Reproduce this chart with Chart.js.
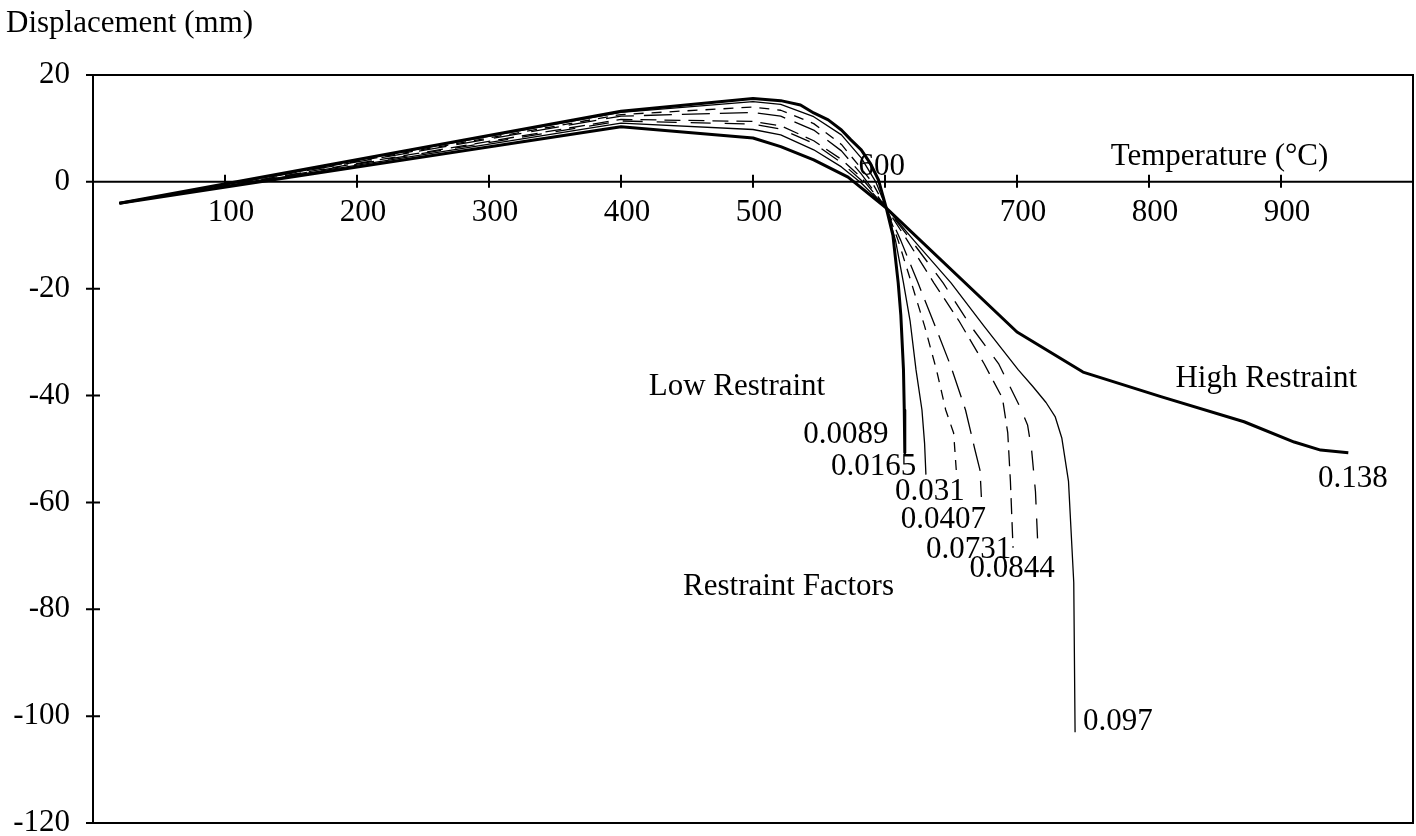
<!DOCTYPE html>
<html>
<head>
<meta charset="utf-8">
<script src="https://cdn.jsdelivr.net/npm/chart.js@4.4.0/dist/chart.umd.min.js"></script>
<style>
  html, body { margin: 0; padding: 0; background: #fff; }
</style>
</head>
<body>
<canvas id="chart" width="1416" height="836"></canvas>
<script>
// temperature (°C), displacement (mm), one array per restraint factor
const rf0089 = [[20,-4],[400,13.2],[500,15.6],[521,15.2],[536,14.4],[546,12.9],[557,11.6],[567,9.7],[574,7.9],[582,6.0],[589,3.4],[595,0.4],[601,-4.9],[606,-10],[610,-18.9],[612,-25],[614,-35.2],[614.6,-42.7],[615,-50.7]];
const rf0165 = [[20,-4],[400,13.0],[500,15.0],[521,14.5],[546,12.2],[567,8.8],[582,4.5],[593,0],[601,-4.9],[608,-11],[614,-18.9],[619,-26],[623.5,-35.2],[628,-42.7],[630,-49],[631,-54.8]];
const rf031 = [[20,-4],[400,12.6],[500,14.0],[521,13.4],[546,10.9],[567,7.0],[582,2.5],[590,0],[601,-4.9],[610,-11],[620,-18.9],[630,-27],[639,-35.2],[646,-42.7],[652,-47],[654,-54]];
const rf0407 = [[20,-4],[400,12.3],[500,13.0],[521,12.3],[546,9.7],[567,5.8],[582,1.5],[601,-4.9],[612,-11],[625,-18.9],[638,-27],[650,-34.6],[661,-42.7],[668,-50],[672,-54],[673,-59]];
const rf0731 = [[20,-4],[400,11.7],[500,11.3],[521,10.5],[546,7.7],[567,4.2],[582,0.8],[601,-4.9],[617,-11],[637,-18.9],[656,-26],[675,-34],[689,-40.5],[693,-47],[695,-56],[697,-68.5]];
const rf0844 = [[20,-4],[400,11.4],[500,10.8],[521,9.9],[546,7.2],[567,3.6],[582,0.3],[601,-4.9],[620,-11],[644,-18.9],[665,-27],[686,-34],[702,-42],[708,-45.5],[711,-50],[714,-58],[716,-69.2]];
const rf097 = [[20,-4],[400,11.0],[500,9.8],[521,8.8],[546,6.0],[567,2.8],[582,-0.2],[601,-4.9],[622,-11],[650,-18.9],[675,-27],[701,-35.2],[712,-38.3],[722,-41.3],[729,-44],[734,-48],[739,-56],[743,-75],[744,-103]];
const rf138 = [[20,-4],[400,10.3],[500,8.2],[521,6.6],[546,4.1],[572,0.9],[601,-4.9],[700,-28.1],[750,-35.6],[809,-40.2],[872,-44.9],[910,-48.7],[930,-50.2],[951,-50.7]];

const xTicks = [100, 200, 300, 400, 500, 700, 800, 900];   // 600 is written above the axis
const yTicks = [20, 0, -20, -40, -60, -80, -100, -120];

// text written inside the plot, anchored in data units (left edge, baseline)
const notes = [
  ['600', 580, 1.3],
  ['Temperature (°C)', 771, 3.2],
  ['Low Restraint', 421, -39.9],
  ['High Restraint', 820, -38.4],
  ['0.0089', 538, -48.8],
  ['0.0165', 559, -54.8],
  ['0.031', 607.6, -59.5],
  ['0.0407', 612, -64.8],
  ['0.0731', 631, -70.4],
  ['0.0844', 664, -73.9],
  ['Restraint Factors', 447, -77.3],
  ['0.097', 750, -102.6],
  ['0.138', 928, -57.1]
];

const serif = '"Liberation Serif", "Times New Roman", serif';
const pts = arr => arr.map(p => ({x: p[0], y: p[1]}));

function line(label, arr, width, dash) {
  return {
    label: label,
    data: pts(arr),
    borderColor: '#000',
    borderWidth: width,
    borderDash: dash || [],
    borderJoinStyle: 'round',
    pointRadius: 0,
    tension: 0,
    fill: false
  };
}

const framePlugin = {
  id: 'frame',
  beforeDatasetsDraw(chart) {
    const {ctx, chartArea: a, scales: {x, y}} = chart;
    ctx.save();
    ctx.strokeStyle = '#000';
    ctx.lineWidth = 2;
    ctx.strokeRect(a.left, a.top, a.right - a.left, a.bottom - a.top);
    const y0 = y.getPixelForValue(0);
    ctx.beginPath();
    ctx.moveTo(a.left, y0);
    ctx.lineTo(a.right, y0);
    x.ticks.forEach(t => {
      if (t.value <= 0) return;
      const px = x.getPixelForValue(t.value);
      ctx.moveTo(px, y0 - 7);
      ctx.lineTo(px, y0 + 6);
    });
    y.ticks.forEach(t => {
      const py = y.getPixelForValue(t.value);
      ctx.moveTo(a.left - 7, py);
      ctx.lineTo(a.left + 7, py);
    });
    ctx.stroke();
    ctx.restore();
  },
  afterDraw(chart) {
    const {ctx, scales: {x, y}} = chart;
    ctx.save();
    ctx.fillStyle = '#000';
    ctx.font = '31px ' + serif;
    ctx.textAlign = 'left';
    ctx.textBaseline = 'alphabetic';
    ctx.fillText('Displacement (mm)', 6, 32);
    notes.forEach(n => {
      ctx.fillText(n[0], x.getPixelForValue(n[1]), y.getPixelForValue(n[2]));
    });
    ctx.restore();
  }
};

new Chart(document.getElementById('chart'), {
  type: 'line',
  data: {
    datasets: [
      line('0.0089', rf0089, 3),
      line('0.0165', rf0165, 1.3),
      line('0.031', rf031, 1.3, [10, 8]),
      line('0.0407', rf0407, 1.3, [28, 10]),
      line('0.0731', rf0731, 1.3, [16, 8]),
      line('0.0844', rf0844, 1.3, [20, 14]),
      line('0.097', rf097, 1.3),
      line('0.138', rf138, 3)
    ]
  },
  options: {
    responsive: false,
    animation: false,
    layout: { padding: { left: 0, top: 75, right: 3, bottom: 13 } },
    plugins: { legend: { display: false }, tooltip: { enabled: false }, title: { display: false } },
    scales: {
      x: {
        type: 'linear',
        position: { y: 0 },
        min: 0,
        max: 1000,
        grid: { display: false, drawTicks: false },
        border: { display: false },
        afterBuildTicks: s => { s.ticks = [0].concat(xTicks, [600, 1000]).sort((a, b) => a - b).map(v => ({value: v})); },
        afterFit: s => { s.height = 0; s.paddingLeft = 0; s.paddingRight = 0; },
        ticks: {
          autoSkip: false,
          maxRotation: 0,
          padding: 12,
          labelOffset: 6,
          color: '#000',
          font: { family: serif, size: 31 },
          callback: v => xTicks.includes(v) ? String(v) : ''
        }
      },
      y: {
        type: 'linear',
        position: 'left',
        min: -120,
        max: 20,
        afterFit: s => { s.width = 93; s.paddingTop = 0; s.paddingBottom = 0; },
        afterBuildTicks: s => { s.ticks = yTicks.map(v => ({value: v})); },
        grid: { display: false, drawTicks: false },
        border: { display: false },
        ticks: {
          padding: 23,
          color: '#000',
          font: { family: serif, size: 31 }
        }
      }
    }
  },
  plugins: [framePlugin]
});
</script>
</body>
</html>
